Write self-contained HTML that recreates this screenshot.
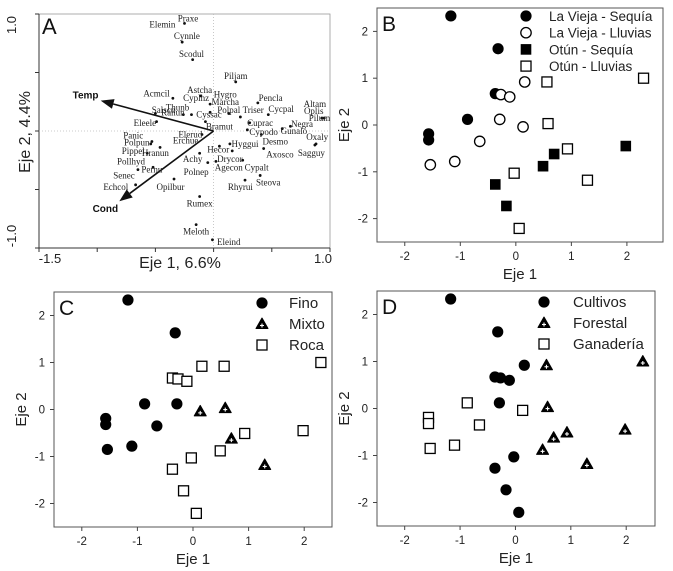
<!DOCTYPE html>
<html><head><meta charset="utf-8"><style>
html,body{margin:0;padding:0;background:#fff;}
svg{display:block;font-family:"Liberation Sans",sans-serif;}
.sp{font-family:"Liberation Serif",serif;font-size:9px;fill:#222;}
</style></head><body>
<svg id="fig" width="673" height="571" viewBox="0 0 673 571" xmlns="http://www.w3.org/2000/svg"></svg>
<script>
// ---- Panel A data (ordination, data units) ----
const spNames = ["Praxe","Cynnle","Scodul","Piljam","Astcha","Acmcil","Marcha","Pencla","Altam","Pilum","Salscu","Thunb","Ranun","Polpal","Cyssac","Triser","Cycpal","Cuprac","Negra","Gunalo","Eleele","Bramut","Cypodo","Oxaly","Oxaly2","Desmo","Elerud","Panic","Polpun","Hyggui","Hecor","Hecor2","Pippel","Hranun","Axosco","Achy","Drycor","Pollhyd","Pernu","Agecon","Agecon2","Cypalt","Polnep","Senec","Rhyrui","Rumex","Meloth","Eleind"];
const spX = [-0.25,-0.27,-0.18,0.19,-0.11,-0.35,-0.03,0.38,0.93,0.95,-0.50,-0.26,-0.19,0.13,-0.03,0.23,0.47,0.31,0.66,0.59,-0.49,-0.07,0.29,0.88,0.87,0.41,-0.10,-0.53,-0.54,0.14,0.05,0.16,-0.46,-0.57,0.43,-0.12,0.25,-0.52,-0.65,0.02,-0.05,0.40,-0.34,-0.67,0.27,-0.12,-0.15,-0.01];
const spY = [0.92,0.76,0.61,0.42,0.30,0.28,0.23,0.24,0.11,0.11,0.15,0.14,0.14,0.15,0.16,0.12,0.14,0.07,0.04,0.02,0.08,0.08,0.01,-0.11,-0.12,-0.03,-0.03,-0.09,-0.11,-0.11,-0.13,-0.17,-0.14,-0.19,-0.15,-0.19,-0.25,-0.31,-0.33,-0.26,-0.27,-0.38,-0.41,-0.46,-0.42,-0.56,-0.80,-0.93];
const lblText = ["Elemin","Praxe","Cynnle","Scodul","Piljam","Astcha","Acmcil","Hygro","Cyplhz","Marcha","Pencla","Altam","Oplis","Pilum","Salscu","Thunb","Ranun","Polpal","Cyssac","Triser","Cycpal","Cuprac","Negra","Gunalo","Eleele","Bramut","Cypodo","Oxaly","Desmo","Elerud","Erchue","Panic","Polpun","Hyggui","Sagguy","Hecor","Pippel","Hranun","Axosco","Achy","Drycor","Pollhyd","Pernu","Agecon","Cypalt","Polnep","Senec","Steova","Echcol","Opilbur","Rhyrui","Rumex","Meloth","Eleind"];
const lblX = [-0.44,-0.22,-0.23,-0.19,0.19,-0.12,-0.49,0.10,-0.15,0.10,0.49,0.87,0.86,0.91,-0.43,-0.31,-0.35,0.13,-0.04,0.34,0.58,0.40,0.76,0.69,-0.59,0.05,0.43,0.89,0.53,-0.20,-0.24,-0.69,-0.66,0.27,0.84,0.04,-0.69,-0.50,0.57,-0.18,0.14,-0.71,-0.53,0.13,0.37,-0.15,-0.77,0.47,-0.84,-0.37,0.23,-0.12,-0.15,0.13];
const lblY = [0.91,0.96,0.81,0.66,0.47,0.35,0.32,0.31,0.28,0.25,0.28,0.23,0.17,0.11,0.18,0.20,0.16,0.18,0.14,0.18,0.19,0.07,0.06,0.00,0.07,0.04,-0.01,-0.05,-0.09,-0.03,-0.08,-0.04,-0.10,-0.11,-0.19,-0.16,-0.17,-0.19,-0.20,-0.24,-0.24,-0.26,-0.33,-0.31,-0.31,-0.35,-0.38,-0.44,-0.48,-0.48,-0.48,-0.62,-0.86,-0.95];
const arrowNames = ["Temp","Cond"];
const arrowX = [-0.97,-0.81];
const arrowY = [0.26,-0.60];
const arrowLblX = [-1.10,-0.93];
const arrowLblY = [0.31,-0.66];

// ---- Panels B/C/D shared site scores ----
const siteX = [-1.17,-0.32,-0.37,-0.87,-1.57,-1.57,0.16,-0.27,-0.11,-0.29,0.13,-0.65,-1.10,-1.54,-0.37,-0.17,0.49,0.69,1.98,2.30,0.56,0.58,0.93,1.29,-0.03,0.06];
const siteY = [2.33,1.63,0.67,0.12,-0.19,-0.32,0.92,0.65,0.60,0.12,-0.04,-0.35,-0.78,-0.85,-1.27,-1.73,-0.88,-0.62,-0.45,1.00,0.92,0.03,-0.51,-1.18,-1.03,-2.21];
const groupB = [0,0,0,0,0,0,1,1,1,1,1,1,1,1,2,2,2,2,2,3,3,3,3,3,3,3];
const groupC = [0,0,2,0,0,0,2,2,2,0,1,0,0,0,2,2,2,1,2,2,2,1,2,1,2,2];
const groupD = [0,0,0,2,2,2,0,0,0,0,2,2,2,2,0,0,1,1,1,1,1,1,1,1,0,0];
const legendB = ["La Vieja - Sequía","La Vieja - Lluvias","Otún - Sequía","Otún - Lluvias"];
const legendC = ["Fino","Mixto","Roca"];
const legendD = ["Cultivos","Forestal","Ganadería"];
const xTicks = [-2,-1,0,1,2];
const yTicks = [-2,-1,0,1,2];

const NS="http://www.w3.org/2000/svg";
const svg=document.getElementById('fig');
function mk(tag,attrs,parent){const e=document.createElementNS(NS,tag);for(const k in attrs)e.setAttribute(k,attrs[k]);(parent||svg).appendChild(e);return e;}
function scale(d0,d1,r0,r1){return v=>r0+(v-d0)/(d1-d0)*(r1-r0);}

// ===== Panel A =====
(function(){
  const g=mk('g',{});
  
  
  const L=39,R=330,T=14,B=248;
  const sx=scale(-1.5,1.0,L,R), sy=scale(-1,1,B,T);
  const fr=mk('rect',{x:L,y:T,width:R-L,height:B-T,fill:'none',stroke:'#999','stroke-width':0.8},g);
  
  
  const ax=mk('line',{x1:L,y1:B,x2:R,y2:B,stroke:'#333','stroke-width':1},g);
  
  
  const ay=mk('line',{x1:L,y1:T,x2:L,y2:B,stroke:'#333','stroke-width':1},g);
  
  
  [-1.5,-1,-0.5,0,0.5,1].forEach(v=>{const t=mk('line',{x1:sx(v),x2:sx(v),y1:B,y2:B+4,stroke:'#333'},g);
    
    });
  [-1,-0.5,0,0.5,1].forEach(v=>{const t=mk('line',{x1:L-4,x2:L,y1:sy(v),y2:sy(v),stroke:'#333'},g);
    
    });
  mk('line',{x1:sx(0),x2:sx(0),y1:T,y2:B,stroke:'#bbb','stroke-dasharray':'1,2','stroke-width':0.8},g);
  mk('line',{x1:L,x2:R,y1:sy(0),y2:sy(0),stroke:'#bbb','stroke-dasharray':'1,2','stroke-width':0.8},g);
  let t;
  t=mk('text',{x:50,y:263,'font-size':13,'text-anchor':'middle',fill:'#222'},g);t.textContent='-1.5';
  
  t=mk('text',{x:323,y:263,'font-size':13,'text-anchor':'middle',fill:'#222'},g);t.textContent='1.0';
  
  t=mk('text',{x:0,y:0,'font-size':13,'text-anchor':'middle',fill:'#222',transform:'translate(16,25) rotate(-90)'},g);t.textContent='1.0';
  
  t=mk('text',{x:0,y:0,'font-size':13,'text-anchor':'middle',fill:'#222',transform:'translate(16,236) rotate(-90)'},g);t.textContent='-1.0';
  
  t=mk('text',{x:180,y:268,'font-size':16,'text-anchor':'middle',fill:'#222'},g);t.textContent='Eje 1, 6.6%';
  
  t=mk('text',{x:0,y:0,'font-size':16,'text-anchor':'middle',fill:'#222',transform:'translate(30,132) rotate(-90)'},g);t.textContent='Eje 2, 4.4%';
  
  t=mk('text',{x:42,y:34,'font-size':22,fill:'#111'},g);t.textContent='A';
  
  arrowNames.forEach((n,i)=>{
    const x0=sx(0),y0=sy(0),x1=sx(arrowX[i]),y1=sy(arrowY[i]);
    const ang=Math.atan2(y1-y0,x1-x0), hl=13, hw=5;
    const bx=x1-hl*Math.cos(ang), by=y1-hl*Math.sin(ang);
    const ln=mk('line',{x1:x0,y1:y0,x2:bx,y2:by,stroke:'#111','stroke-width':1.6},g);
    
    
    const px=-Math.sin(ang),py=Math.cos(ang);
    const hd=mk('polygon',{points:`${x1},${y1} ${bx+hw*px},${by+hw*py} ${bx-hw*px},${by-hw*py}`,fill:'#111'},g);
    
    
    const lt=mk('text',{x:sx(arrowLblX[i]),y:sy(arrowLblY[i])+4,'font-size':10,'font-weight':'bold','text-anchor':'middle',fill:'#111'},g);
    lt.textContent=n;
    
    
  });
  spX.forEach((v,i)=>{
    const c=mk('circle',{cx:sx(v),cy:sy(spY[i]),r:1.4,fill:'#111'},g);
    
    
  });
  lblText.forEach((s,i)=>{
    const lt=mk('text',{x:sx(lblX[i]),y:sy(lblY[i])+3,'text-anchor':'middle',class:'sp'},g);
    lt.textContent=s;
    
    
  });
})();

// ===== Scatter panels =====
function marker(g,type,cx,cy){
  let e;
  if(type==='fc') e=mk('circle',{cx,cy,r:5.6,fill:'#000'},g);
  else if(type==='oc') e=mk('circle',{cx,cy,r:5.2,fill:'#fff',stroke:'#000','stroke-width':1.3},g);
  else if(type==='fs') e=mk('rect',{x:cx-5.3,y:cy-5.3,width:10.6,height:10.6,fill:'#000'},g);
  else if(type==='os') e=mk('rect',{x:cx-5,y:cy-5,width:10,height:10,fill:'#fff',stroke:'#000','stroke-width':1.3},g);
  else {
    e=mk('g',{},g);
    mk('polygon',{points:`${cx},${cy-6} ${cx+6},${cy+4.5} ${cx-6},${cy+4.5}`,fill:'#000',stroke:'#000','stroke-width':1,'stroke-linejoin':'round'},e);
    mk('line',{x1:cx-2,x2:cx+2,y1:cy+1.5,y2:cy+1.5,stroke:'#fff','stroke-width':1.1},e);
    mk('line',{x1:cx,x2:cx,y1:cy-0.5,y2:cy+3.5,stroke:'#fff','stroke-width':1.1},e);
  }
  return e;
}
function panel(cfg){
  const g=mk('g',{});
  
  
  const {L,R,T,B}=cfg;
  const sx=scale(cfg.xd[0],cfg.xd[1],L,R), sy=scale(-2.5,2.5,B,T);
  const fr=mk('rect',{x:L,y:T,width:R-L,height:B-T,fill:'none',stroke:'#555','stroke-width':1},g);
  
  
  xTicks.forEach(v=>{
    const t=mk('line',{x1:sx(v),x2:sx(v),y1:B,y2:B+4,stroke:'#444'},g);
    
    
    const l=mk('text',{x:sx(v),y:B+18,'font-size':11.5,'text-anchor':'middle',fill:'#222'},g);
    l.textContent=String(v);
    
    
  });
  yTicks.forEach(v=>{
    const t=mk('line',{x1:L-4,x2:L,y1:sy(v),y2:sy(v),stroke:'#444'},g);
    
    
    const l=mk('text',{x:L-9,y:sy(v)+4,'font-size':11.5,'text-anchor':'end',fill:'#222'},g);
    l.textContent=String(v);
    
    
  });
  let t=mk('text',{x:(L+R)/2,y:B+37,'font-size':15,'text-anchor':'middle',fill:'#222'},g);
  t.textContent='Eje 1';
  
  
  t=mk('text',{x:0,y:0,'font-size':15,'text-anchor':'middle',fill:'#222',transform:`translate(${L-28},${(T+B)/2}) rotate(-90)`},g);
  t.textContent='Eje 2';
  
  
  t=mk('text',{x:L+5,y:T+23,'font-size':21,fill:'#111'},g);
  t.textContent=cfg.letter;
  
  
  siteX.forEach((v,i)=>{
    const m=marker(g,cfg.types[cfg.groups[i]],sx(v),sy(siteY[i]));
    
    
  });
  cfg.legend.forEach((s,i)=>{
    const y=cfg.legY+i*cfg.legStep;
    const m=marker(g,cfg.types[i],cfg.legMX,y);
    
    
    const l=mk('text',{x:cfg.legTX,y:y+5,'font-size':cfg.legFS,fill:'#222'},g);
    l.textContent=s;
    
    
  });
}
panel({id:'b',letter:'B',L:377,R:663,T:8,B:242,xd:[-2.5,2.65],groups:groupB,types:['fc','oc','fs','os'],legend:legendB,legMX:526,legTX:549,legY:16,legStep:16.7,legFS:13.5});
panel({id:'c',letter:'C',L:54,R:332,T:292,B:527,xd:[-2.5,2.5],groups:groupC,types:['fc','tr','os'],legend:legendC,legMX:262,legTX:289,legY:303,legStep:21,legFS:15});
panel({id:'d',letter:'D',L:377,R:655,T:291,B:526,xd:[-2.5,2.52],groups:groupD,types:['fc','tr','os'],legend:legendD,legMX:544,legTX:573,legY:302,legStep:21,legFS:15});
</script>
</body></html>
